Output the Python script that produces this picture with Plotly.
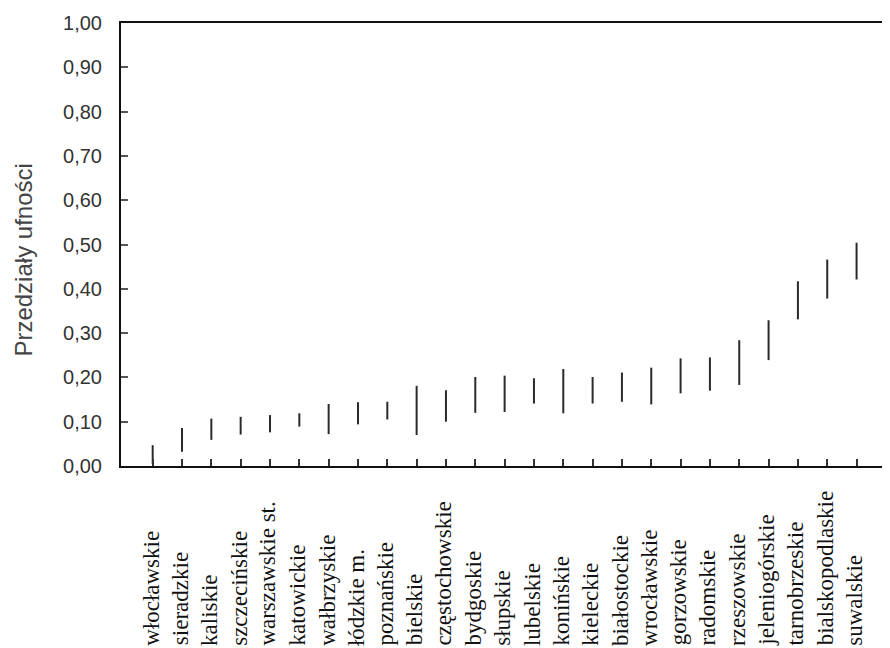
import plotly.graph_objects as go

regions = ["włocławskie", "sieradzkie", "kaliskie", "szczecińskie", "warszawskie st.",
           "katowickie", "wałbrzyskie", "łódzkie m.", "poznańskie", "bielskie",
           "częstochowskie", "bydgoskie", "słupskie", "lubelskie", "konińskie",
           "kieleckie", "białostockie", "wrocławskie", "gorzowskie", "radomskie",
           "rzeszowskie", "jeleniogórskie", "tarnobrzeskie", "bialskopodlaskie", "suwalskie"]
lower = [0.005, 0.032, 0.059, 0.071, 0.076, 0.089, 0.072, 0.094, 0.105, 0.070,
         0.100, 0.120, 0.122, 0.141, 0.119, 0.141, 0.145, 0.139, 0.164, 0.170,
         0.183, 0.239, 0.331, 0.378, 0.421]
upper = [0.047, 0.086, 0.107, 0.111, 0.115, 0.119, 0.140, 0.144, 0.145, 0.181,
         0.171, 0.201, 0.204, 0.198, 0.219, 0.201, 0.211, 0.222, 0.243, 0.245,
         0.284, 0.329, 0.417, 0.466, 0.504]
y_ticks = [0.0, 0.1, 0.2, 0.3, 0.4, 0.5, 0.6, 0.7, 0.8, 0.9, 1.0]
y_title = "Przedziały ufności"

idx = list(range(len(regions)))
xs, ys = [], []
for i, lo, hi in zip(idx, lower, upper):
    xs += [i, i, None]
    ys += [lo, hi, None]

fig = go.Figure(go.Scatter(x=xs, y=ys, mode="lines",
                           line=dict(color="#2a2a2a", width=2),
                           hoverinfo="skip", showlegend=False))

annotations = [dict(x=i, xref="x", y=-0.410, yref="paper", text=name,
                    textangle=-90, xanchor="center", yanchor="bottom",
                    xshift=-2, showarrow=False,
                    font=dict(family="Liberation Serif", size=23, color="#111"))
               for i, name in zip(idx, regions)]
annotations.append(dict(x=-0.128, xref="paper", y=0.465, yref="paper", text=y_title,
                        textangle=-90, xanchor="center", yanchor="middle",
                        showarrow=False,
                        font=dict(family="Liberation Sans", size=24, color="#444")))

fig.update_layout(
    width=882, height=640,
    margin=dict(l=113, r=0, t=15, b=182),
    paper_bgcolor="white", plot_bgcolor="white",
    separators=", ",
    annotations=annotations,
    xaxis=dict(range=[-1.08, 25.14], tickvals=idx, showticklabels=False,
               ticks="inside", ticklen=7, tickwidth=2, tickcolor="#333",
               showgrid=False, zeroline=False, showline=True, linecolor="#111",
               linewidth=2, mirror=True),
    yaxis=dict(range=[0, 1], tickvals=y_ticks, tickformat=".2f",
               ticks="inside", ticklen=7, tickwidth=1.5, tickcolor="#555",
               ticklabelstandoff=13,
               tickfont=dict(family="Liberation Sans", size=20, color="#333"),
               showgrid=False, zeroline=False, showline=True, linecolor="#111",
               linewidth=2, mirror=False),
)

fig.write_html("out.html")
